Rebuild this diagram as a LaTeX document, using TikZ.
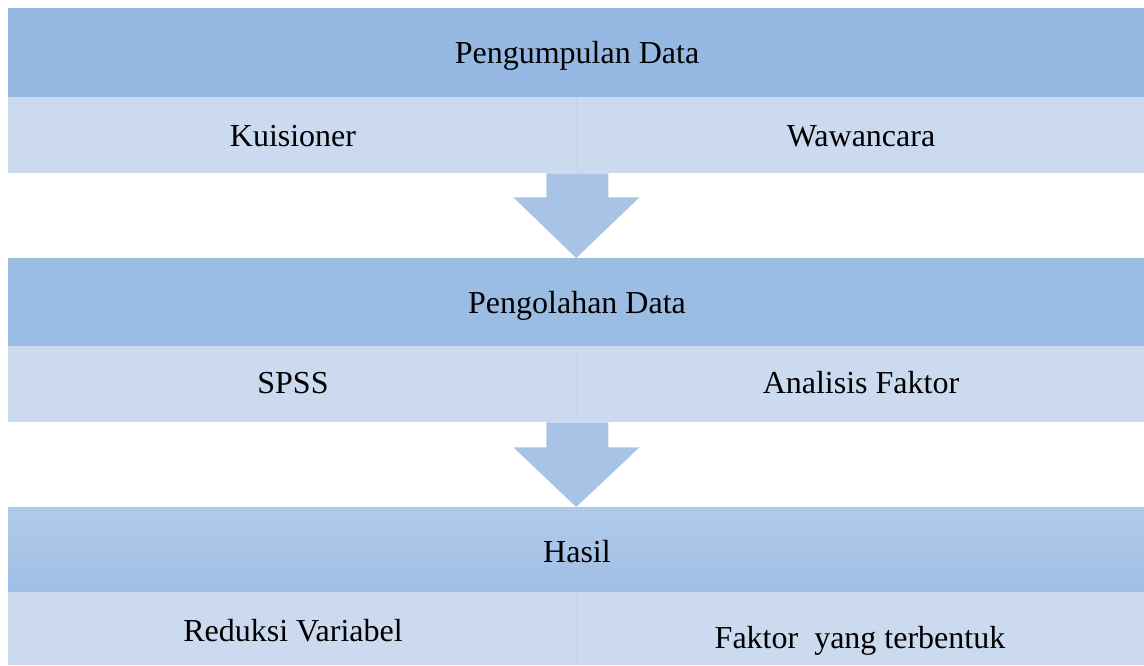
\documentclass[tikz,border=0pt]{standalone}
\usepackage{fontspec}
\setmainfont{Liberation Serif}
\usetikzlibrary{calc}
\definecolor{bandD}{RGB}{149,185,227}
\definecolor{bandDb}{RGB}{155,189,228}
\definecolor{bandTop}{RGB}{176,202,233}
\definecolor{bandBot}{RGB}{160,191,229}
\definecolor{bandL}{RGB}{203,218,238}
\definecolor{divL}{RGB}{196,212,235}
\definecolor{arrowC}{RGB}{167,196,230}
\begin{document}
\begin{tikzpicture}[x=1pt,y=-1pt,
  hdr/.style={draw=none, inner sep=0pt, anchor=north west, minimum width=1136pt},
  cell/.style={fill=bandL, draw=none, inner sep=0pt, anchor=north west, minimum width=568pt},
  lbl/.style={anchor=base, inner sep=0pt, font=\fontsize{32}{38}\selectfont},
  blockarrow/.style={fill=arrowC, draw=none},
  divider/.style={draw=divL, line width=0.8pt}]
\useasboundingbox (0,0) rectangle (1144,665);
% band 1
\node[hdr, fill=bandD, minimum height=89pt] (h1) at (8,8) {};
\node[cell, minimum height=76pt] (c1l) at (8,97) {};
\node[cell, minimum height=76pt] (c1r) at (576,97) {};
% band 2
\node[hdr, fill=bandDb, minimum height=88pt] (h2) at (8,258) {};
\node[cell, minimum height=76pt] (c2l) at (8,346) {};
\node[cell, minimum height=76pt] (c2r) at (576,346) {};
% band 3
\node[hdr, top color=bandTop, bottom color=bandBot, minimum height=85pt] (h3) at (8,507) {};
\node[cell, minimum height=73pt] (c3l) at (8,592) {};
\node[cell, minimum height=73pt] (c3r) at (576,592) {};
% dividers
\draw[divider] (c1l.north east) -- (c1l.south east);
\draw[divider] (c2l.north east) -- (c2l.south east);
\draw[divider] (c3l.north east) -- (c3l.south east);
% arrows
\coordinate (a1t) at ($(c1l.south east)+(1,0)$);
\coordinate (a1b) at ($(h2.north west)!0.5!(h2.north east)$);
\fill[blockarrow] ($(a1t)+(-31,0)$) -- ($(a1t)+(31,0)$) -- ($(a1t)+(31,24)$) -- ($(a1t)+(62,24)$)
  -- (a1b) -- ($(a1t)+(-64,24)$) -- ($(a1t)+(-31,24)$) -- cycle;
\coordinate (a2t) at ($(c2l.south east)+(1,0)$);
\coordinate (a2b) at ($(h3.north west)!0.5!(h3.north east)$);
\fill[blockarrow] ($(a2t)+(-31,0)$) -- ($(a2t)+(31,0)$) -- ($(a2t)+(31,25)$) -- ($(a2t)+(62,25)$)
  -- (a2b) -- ($(a2t)+(-64,25)$) -- ($(a2t)+(-31,25)$) -- cycle;
% labels
\node[lbl] (t1) at (577,63) {Pengumpulan Data};
\node[lbl] (t2) at (293,146) {Kuisioner};
\node[lbl] (t3) at (861,146) {Wawancara};
\node[lbl] (t4) at (577,313) {Pengolahan Data};
\node[lbl] (t5) at (293,393) {SPSS};
\node[lbl] (t6) at (861,393) {Analisis Faktor};
\node[lbl] (t7) at (577,562) {Hasil};
\node[lbl] (t8) at (293,641) {Reduksi Variabel};
\node[lbl] (t9) at (860,648) {Faktor\ \ yang terbentuk};
\end{tikzpicture}
\end{document}
